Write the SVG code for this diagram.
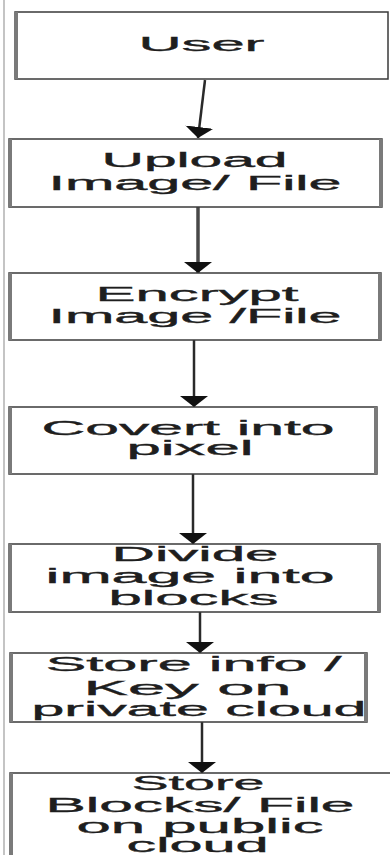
<svg xmlns="http://www.w3.org/2000/svg" width="390" height="855" viewBox="0 0 390 855">
  <style>
    .box { fill: #ffffff; stroke: #3a3a3a; stroke-width: 1.5; }
    .edge { stroke: #7a7a7a; stroke-width: 4; }
    .lbl { font-family: "Liberation Sans", Arial, sans-serif; font-size: 20px; fill: #1e1e1e; stroke: #1e1e1e; stroke-width: 0.35; text-anchor: middle; }
    .flow { fill: none; stroke: #2a2a2a; stroke-width: 2.5; }
    .flow.thick { stroke: #484848; stroke-width: 3.5; }
  </style>
  <defs>
    <marker id="head" markerUnits="userSpaceOnUse" markerWidth="11" markerHeight="28" viewBox="0 0 11 28" refX="11" refY="14" orient="auto">
      <path d="M0,0 L11,14 L0,28 Z" fill="#111111"/>
    </marker>
  </defs>

  <rect width="390" height="855" fill="#ffffff"/>
  <!-- page margin rule -->
  <line x1="4" y1="0" x2="4" y2="855" stroke="#c4c4c4" stroke-width="2"/>

  <g id="connectors">
    <line class="flow" x1="205" y1="80" x2="198" y2="138" marker-end="url(#head)"/>
    <line class="flow thick" x1="198" y1="207" x2="198" y2="273" marker-end="url(#head)"/>
    <line class="flow" x1="194" y1="340" x2="194" y2="407" marker-end="url(#head)"/>
    <line class="flow" x1="193" y1="474" x2="193" y2="544" marker-end="url(#head)"/>
    <line class="flow" x1="200" y1="612" x2="200" y2="653" marker-end="url(#head)"/>
    <line class="flow" x1="202" y1="722" x2="202" y2="773" marker-end="url(#head)"/>
  </g>

  <g id="user">
    <rect class="box" x="15" y="12" width="373" height="67"/>
    <line class="edge" x1="16" y1="12" x2="16" y2="79"/>
    <text class="lbl" x="201.5" y="51" textLength="126" lengthAdjust="spacingAndGlyphs">User</text>
  </g>

  <g id="upload">
    <rect class="box" x="9" y="139" width="373" height="68"/>
    <line class="edge" x1="10" y1="139" x2="10" y2="207"/>
    <line class="edge" x1="381" y1="139" x2="381" y2="207"/>
    <text class="lbl" x="194.5" y="167" textLength="186" lengthAdjust="spacingAndGlyphs">Upload</text>
    <text class="lbl" x="195" y="190" textLength="293" lengthAdjust="spacingAndGlyphs">Image/ File</text>
  </g>

  <g id="encrypt">
    <rect class="box" x="9" y="273" width="372" height="67"/>
    <line class="edge" x1="10" y1="273" x2="10" y2="340"/>
    <line class="edge" x1="380" y1="273" x2="380" y2="340"/>
    <text class="lbl" x="197" y="301" textLength="203" lengthAdjust="spacingAndGlyphs">Encrypt</text>
    <text class="lbl" x="195" y="323" textLength="293" lengthAdjust="spacingAndGlyphs">Image /File</text>
  </g>

  <g id="convert">
    <rect class="box" x="9" y="407" width="368" height="67"/>
    <line class="edge" x1="10" y1="407" x2="10" y2="474"/>
    <line class="edge" x1="376" y1="407" x2="376" y2="474"/>
    <text class="lbl" x="188" y="435" textLength="293" lengthAdjust="spacingAndGlyphs">Covert into</text>
    <text class="lbl" x="190" y="455" textLength="127" lengthAdjust="spacingAndGlyphs">pixel</text>
  </g>

  <g id="divide">
    <rect class="box" x="9" y="544" width="371" height="68"/>
    <line class="edge" x1="10" y1="544" x2="10" y2="612"/>
    <line class="edge" x1="379" y1="544" x2="379" y2="612"/>
    <text class="lbl" x="195" y="561" textLength="167" lengthAdjust="spacingAndGlyphs">Divide</text>
    <text class="lbl" x="190" y="583" textLength="289" lengthAdjust="spacingAndGlyphs">image into</text>
    <text class="lbl" x="193.5" y="605" textLength="170" lengthAdjust="spacingAndGlyphs">blocks</text>
  </g>

  <g id="private-store">
    <rect class="box" x="10" y="653" width="357" height="69"/>
    <line class="edge" x1="11" y1="653" x2="11" y2="722"/>
    <line class="edge" x1="366" y1="653" x2="366" y2="722"/>
    <text class="lbl" x="193.5" y="671" textLength="296" lengthAdjust="spacingAndGlyphs">Store info /</text>
    <text class="lbl" x="187.5" y="695" textLength="208" lengthAdjust="spacingAndGlyphs">Key on</text>
    <text class="lbl" x="199" y="716" textLength="335" lengthAdjust="spacingAndGlyphs">private cloud</text>
  </g>

  <g id="public-store">
    <rect class="box" x="10" y="773" width="384" height="90"/>
    <line class="edge" x1="11" y1="773" x2="11" y2="855"/>
    <text class="lbl" x="198" y="790" textLength="133" lengthAdjust="spacingAndGlyphs">Store</text>
    <text class="lbl" x="200" y="812" textLength="309" lengthAdjust="spacingAndGlyphs">Blocks/ File</text>
    <text class="lbl" x="200" y="833" textLength="247" lengthAdjust="spacingAndGlyphs">on public</text>
    <text class="lbl" x="197.5" y="852" textLength="142" lengthAdjust="spacingAndGlyphs">cloud</text>
  </g>
</svg>
